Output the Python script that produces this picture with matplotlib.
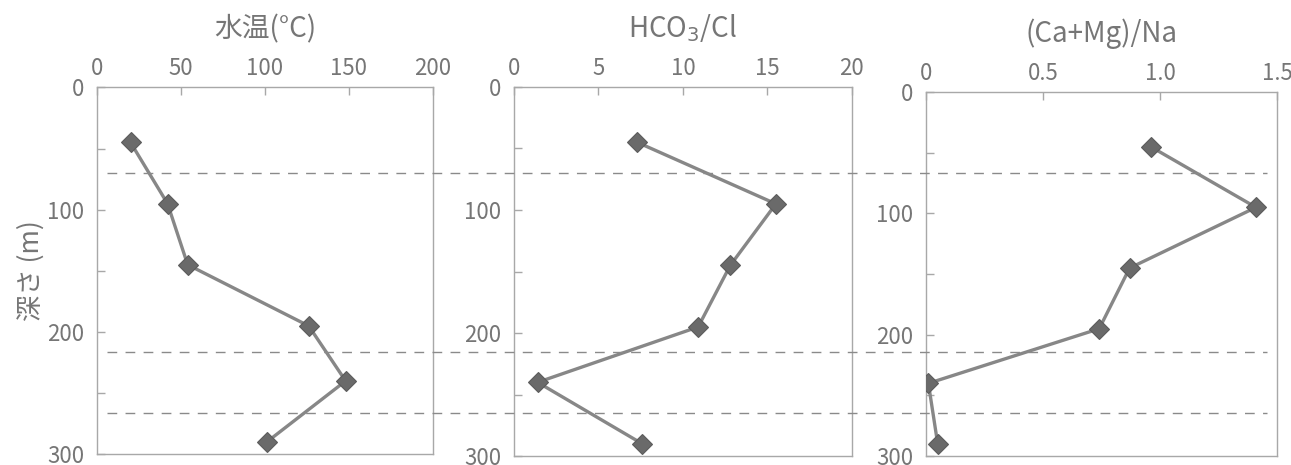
import matplotlib.pyplot as plt
from matplotlib import transforms
from matplotlib.ticker import MultipleLocator, FixedLocator

plt.rcParams['font.family'] = ['Noto Sans CJK JP', 'DejaVu Sans']

# 採水深度 (m) と各項目の値
depth = [45, 95, 145, 195, 240, 290]
water_temp = [20, 42, 54, 126, 148, 101]
hco3_cl = [7.3, 15.5, 12.8, 10.9, 1.4, 7.6]
ca_mg_na = [0.96, 1.41, 0.87, 0.74, 0.01, 0.05]

# 境界深度 (破線)
boundary_depths = [70, 216, 266]

titles = ['水温(°C)', 'HCO$_3$/Cl', '(Ca+Mg)/Na']
x_limits = [(0, 200), (0, 20), (0, 1.5)]
x_ticks = [[0, 50, 100, 150, 200], [0, 5, 10, 15, 20], [0, 0.5, 1.0, 1.5]]
x_ticklabels = [['0', '50', '100', '150', '200'],
                ['0', '5', '10', '15', '20'],
                ['0', '0.5', '1.0', '1.5']]
series = [water_temp, hco3_cl, ca_mg_na]

gris_texto = '#767676'
gris_eje = '#a8a8a8'
gris_linea = '#878787'
gris_marca = '#6a6a6a'

fig = plt.figure(figsize=(12.91, 4.65), dpi=100)
posiciones = [
    [0.0751, 0.0230, 0.2603, 0.789],
    [0.3981, 0.0190, 0.2618, 0.794],
    [0.7173, 0.0190, 0.2719, 0.783],
]

axes = []
for k in range(3):
    ax = fig.add_axes(posiciones[k])
    ax.plot(series[k], depth, color=gris_linea, lw=2.4, zorder=3,
            marker='D', markersize=10.5, markerfacecolor=gris_marca,
            markeredgecolor='#5c5c5c', markeredgewidth=0.8)
    ax.set_xlim(*x_limits[k])
    ax.set_ylim(300, 0)
    ax.xaxis.tick_top()
    ax.xaxis.set_major_locator(FixedLocator(x_ticks[k]))
    ax.set_xticklabels(x_ticklabels[k])
    ax.yaxis.set_major_locator(MultipleLocator(100))
    ax.yaxis.set_minor_locator(MultipleLocator(50))
    ax.tick_params(axis='both', which='both', direction='in', colors=gris_eje,
                   labelcolor=gris_texto, labelsize=16, width=1)
    ax.tick_params(axis='x', length=6, pad=5)
    ax.tick_params(axis='y', which='both', length=6, pad=9)
    for s in ax.spines.values():
        s.set_color(gris_eje)
        s.set_linewidth(1.0)
    ax.set_title(titles[k], fontsize=20, color=gris_texto, pad=36)
    axes.append(ax)

axes[0].set_ylabel('深さ (m)', fontsize=19, color=gris_texto, labelpad=2)

# 破線は3つのパネルをまたいで引く
trans = transforms.blended_transform_factory(fig.transFigure, axes[0].transData)
for d in boundary_depths:
    fig.add_artist(plt.Line2D([107 / 1291, 1267 / 1291], [d, d], transform=trans,
                              color='#8a8a8a', lw=1.0, dashes=(7, 6), zorder=5))

fig.savefig('out.png', dpi=100)
